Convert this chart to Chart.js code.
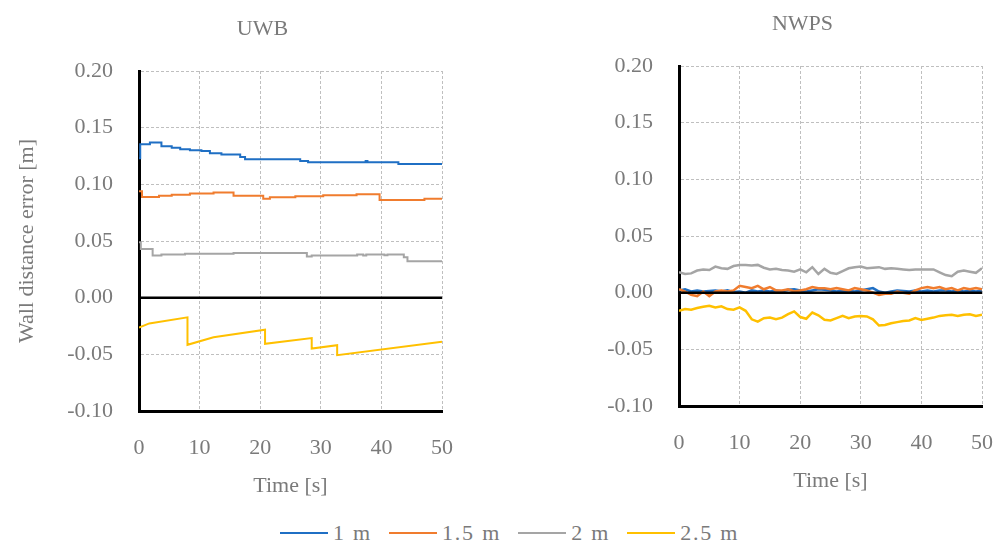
<!DOCTYPE html>
<html>
<head>
<meta charset="utf-8">
<script src="https://cdn.jsdelivr.net/npm/chart.js@4.4.1/dist/chart.umd.min.js"></script>
<style>
  html, body { margin:0; padding:0; background:#fff; }
  body { width:1001px; height:545px; overflow:hidden; position:relative; }
  .box { position:absolute; }
  #legend { position:absolute; left:280px; top:520px; display:flex; align-items:center;
            font-family:'Liberation Serif', serif; font-size:22px; line-height:26px; color:#7a7a7a;
            white-space:nowrap; letter-spacing:1.8px; }
  #legend .sw { display:inline-block; width:48px; height:0; border-top:2.5px solid; margin-right:5px; }
  #legend .it { display:flex; align-items:center; margin-right:17px; }
</style>
</head>
<body>
<div class="box" style="left:0px;top:0px;"><canvas id="uwb" width="525" height="500"></canvas></div>
<div class="box" style="left:604px;top:-5px;"><canvas id="nwps" width="397" height="500"></canvas></div>
<div id="legend"></div>
<script>
// ---------- data ----------
const seriesNames = ['1 m', '1.5 m', '2 m', '2.5 m'];
const seriesColors = ['#1F6FC4', '#F07C2E', '#A5A5A5', '#FFC000'];
const xTicks = [0, 10, 20, 30, 40, 50];
const yTicks = [-0.10, -0.05, 0.00, 0.05, 0.10, 0.15, 0.20];

// UWB (step-wise series: time where each level starts, and the level)
const uwb1mTime = [0, 0.2, 1.8, 3.7, 5.4, 6.8, 8.4, 10.3, 11.7, 13.6, 16.7, 17.5, 26.6, 27.9, 37.4, 37.7, 42.8, 50];
const uwb1mErr  = [0.123, 0.1354, 0.1369, 0.1336, 0.1322, 0.131, 0.130, 0.1295, 0.1274, 0.1263, 0.1242, 0.1221, 0.1206, 0.1195, 0.1205, 0.1195, 0.118, 0.118];
const uwb15mTime = [0, 0.5, 3.3, 5.4, 8.4, 12.3, 15.6, 20.5, 21.6, 25.8, 30.4, 35.9, 39.7, 47.1, 50];
const uwb15mErr  = [0.094, 0.0888, 0.090, 0.0909, 0.092, 0.0929, 0.090, 0.0873, 0.0885, 0.0894, 0.0903, 0.0912, 0.0861, 0.0873, 0.0873];
const uwb2mTime = [0, 0.3, 2.25, 3.7, 7.6, 15.6, 27.7, 28.5, 36, 37, 37.5, 40.5, 41, 43.7, 44.3, 50];
const uwb2mErr  = [0.049, 0.043, 0.0372, 0.038, 0.0387, 0.0395, 0.0363, 0.0372, 0.038, 0.0372, 0.038, 0.0375, 0.038, 0.0357, 0.0321, 0.0321];
const uwb25mTime = [0, 1.7, 8.0, 8.0, 12.3, 20.8, 20.8, 28.5, 28.5, 32.7, 32.7, 50];
const uwb25mErr  = [-0.0263, -0.0227, -0.0174, -0.0416, -0.0350, -0.0283, -0.0407, -0.0357, -0.0449, -0.0419, -0.0507, -0.0389];

// NWPS (sampled every second)
const nwpsTime = [0,1,2,3,4,5,6,7,8,9,10,11,12,13,14,15,16,17,18,19,20,21,22,23,24,25,26,27,28,29,30,31,32,33,34,35,36,37,38,39,40,41,42,43,44,45,46,47,48,49,50];
const nwps1mErr = [0.002,0.003,0.001,0.002,0.001,0.0015,0.002,0.001,0.002,0.0005,0.001,0.000,0.002,0.001,0.002,0.001,0.002,0.001,0.0025,0.003,0.002,0.001,0.002,0.003,0.0025,0.002,0.001,0.002,0.0015,0.001,0.002,0.003,0.004,0.001,0.000,0.001,0.002,0.0015,0.001,0.002,0.001,0.002,0.001,0.002,0.002,0.001,0.002,0.001,0.002,0.001,0.002];
const nwps15mErr = [0.003,0.001,-0.002,-0.003,0.001,-0.003,0.001,0.002,0.001,0.002,0.006,0.005,0.004,0.006,0.003,0.005,0.002,0.002,0.003,0.001,0.002,0.003,0.005,0.004,0.004,0.003,0.004,0.003,0.002,0.004,0.003,0.002,0.000,-0.002,-0.001,-0.001,0.001,0.000,-0.001,0.002,0.004,0.005,0.004,0.005,0.003,0.004,0.002,0.004,0.003,0.004,0.003];
const nwps2mErr = [0.018,0.0165,0.017,0.0195,0.0205,0.020,0.023,0.0215,0.021,0.0235,0.0245,0.0245,0.024,0.0245,0.022,0.0205,0.021,0.020,0.0195,0.0185,0.0205,0.018,0.0225,0.0165,0.021,0.0175,0.0165,0.019,0.0215,0.0225,0.023,0.0215,0.022,0.0225,0.021,0.0215,0.021,0.0205,0.020,0.0205,0.0205,0.0205,0.0205,0.018,0.0155,0.0145,0.0185,0.0195,0.0185,0.0175,0.0215];
const nwps25mErr = [-0.016,-0.0145,-0.015,-0.0135,-0.0125,-0.0115,-0.013,-0.012,-0.0145,-0.015,-0.013,-0.016,-0.0235,-0.0255,-0.0225,-0.022,-0.0235,-0.022,-0.019,-0.0165,-0.0215,-0.023,-0.0175,-0.020,-0.024,-0.0245,-0.0225,-0.0205,-0.0225,-0.021,-0.0205,-0.021,-0.0235,-0.029,-0.0285,-0.027,-0.026,-0.025,-0.0245,-0.0225,-0.024,-0.023,-0.022,-0.0205,-0.020,-0.0195,-0.0205,-0.0195,-0.019,-0.0205,-0.0195];

// ---------- helpers ----------
const TEXT = '#7a7a7a';
const FONT = "'Liberation Serif', serif";
function pts(t, v) { return t.map((x, i) => ({ x: x, y: v[i] })); }

const zeroLine = {
  id: 'zeroLine',
  afterDatasetsDraw(chart) {
    const { ctx, chartArea, scales } = chart;
    const py = scales.y.getPixelForValue(0);
    ctx.save();
    ctx.strokeStyle = '#000';
    ctx.lineWidth = 2.5;
    ctx.beginPath();
    ctx.moveTo(chartArea.left, py);
    ctx.lineTo(chartArea.right, py);
    ctx.stroke();
    ctx.restore();
  }
};

function makeOptions(title, yWidth, rightSpace, showYTitle, lineW) {
  return {
    responsive: false,
    animation: false,
    devicePixelRatio: 1,
    layout: { padding: 0 },
    plugins: {
      legend: { display: false },
      tooltip: { enabled: false },
      title: { display: true, text: title, color: TEXT,
               font: { family: FONT, size: 22, weight: 'normal' },
               padding: { top: 16, bottom: 28.6 } }
    },
    elements: { point: { radius: 0 }, line: { tension: 0, borderWidth: lineW } },
    scales: {
      x: {
        type: 'linear', min: 0, max: 50,
        afterBuildTicks(s) { s.ticks = xTicks.map(v => ({ value: v })); },
        afterFit(s) { s.height = 89; },
        grid: { color: '#BFBFBF', lineWidth: 1, drawTicks: true, tickLength: 24, tickColor: 'rgba(0,0,0,0)' },
        border: { display: true, color: '#000', width: 3, dash: [3, 2] },
        ticks: { color: TEXT, font: { family: FONT, size: 22 }, padding: 0, maxRotation: 0,
                 callback: v => String(v) },
        title: { display: true, text: 'Time [s]', color: TEXT,
                 font: { family: FONT, size: 22 }, padding: { top: 0, bottom: 1 } }
      },
      y: {
        type: 'linear', min: -0.1, max: 0.2,
        afterBuildTicks(s) { s.ticks = yTicks.map(v => ({ value: v })); },
        afterFit(s) { s.width = yWidth; },
        grid: { color: '#BFBFBF', lineWidth: 1, drawTicks: false },
        border: { display: true, color: '#000', width: 3, dash: [3, 2] },
        ticks: { color: TEXT, font: { family: FONT, size: 22 }, padding: 26,
                 callback: v => (Math.abs(v) < 1e-9 ? 0 : v).toFixed(2) },
        title: { display: showYTitle, text: 'Wall distance error [m]', color: TEXT,
                 font: { family: FONT, size: 22 }, padding: { top: 14, bottom: 0 } }
      },
      space: {
        type: 'linear', position: 'right', display: true,
        afterFit(s) { s.width = rightSpace; },
        ticks: { display: false },
        grid: { display: false, drawOnChartArea: false, drawTicks: false },
        border: { display: false },
        title: { display: false }
      }
    }
  };
}

function ds(i, data, stepped) {
  return { label: seriesNames[i], data: data, borderColor: seriesColors[i], backgroundColor: seriesColors[i],
           stepped: stepped, fill: false, order: 4 - i, yAxisID: 'y', xAxisID: 'x' };
}

new Chart(document.getElementById('uwb'), {
  type: 'line',
  data: { datasets: [
    ds(0, pts(uwb1mTime, uwb1mErr), 'before'),
    ds(1, pts(uwb15mTime, uwb15mErr), 'before'),
    ds(2, pts(uwb2mTime, uwb2mErr), 'before'),
    ds(3, pts(uwb25mTime, uwb25mErr), false)
  ] },
  options: makeOptions('UWB', 139, 83, true, 2),
  plugins: [zeroLine]
});

new Chart(document.getElementById('nwps'), {
  type: 'line',
  data: { datasets: [
    ds(0, pts(nwpsTime, nwps1mErr), false),
    ds(1, pts(nwpsTime, nwps15mErr), false),
    ds(2, pts(nwpsTime, nwps2mErr), false),
    ds(3, pts(nwpsTime, nwps25mErr), false)
  ] },
  options: makeOptions('NWPS', 75, 19, false, 2.5),
  plugins: [zeroLine]
});

// HTML legend
const lg = document.getElementById('legend');
seriesNames.forEach((n, i) => {
  const it = document.createElement('span'); it.className = 'it';
  const sw = document.createElement('span'); sw.className = 'sw'; sw.style.borderTopColor = seriesColors[i];
  const tx = document.createElement('span'); tx.textContent = n;
  it.appendChild(sw); it.appendChild(tx); lg.appendChild(it);
});
</script>
</body>
</html>
